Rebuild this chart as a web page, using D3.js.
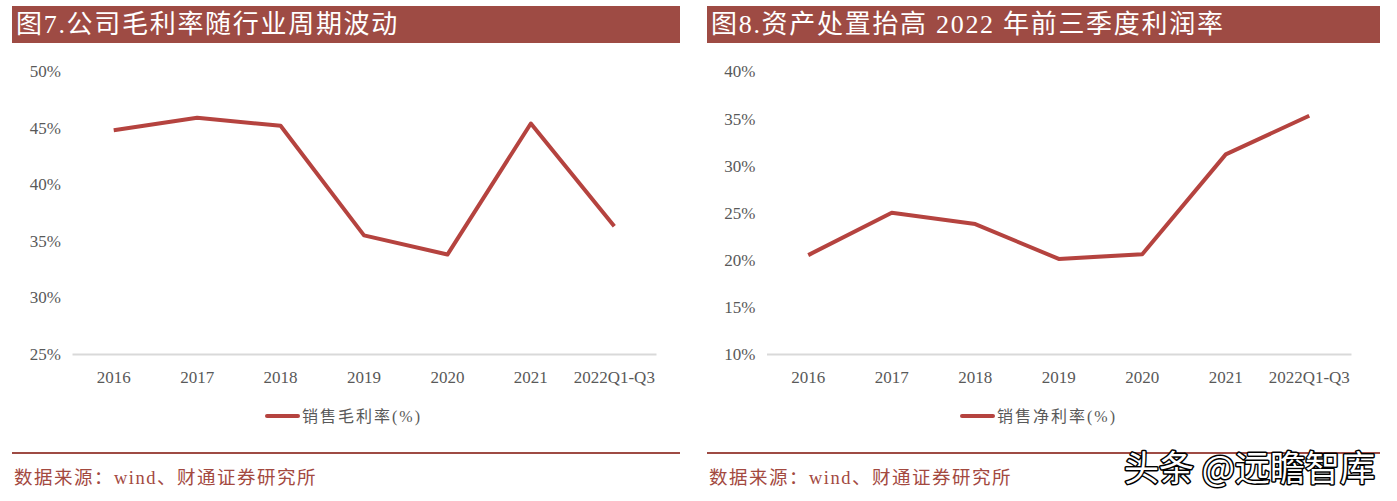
<!DOCTYPE html>
<html><head><meta charset="utf-8">
<script src="https://cdn.jsdelivr.net/npm/d3@7"></script>
<style>
body{margin:0;background:#fff;}
svg{display:block;}
</style></head>
<body>
<svg id="c" width="1397" height="501"></svg>
<script>
const categories = ["2016","2017","2018","2019","2020","2021","2022Q1-Q3"];
const grossMargin = [44.8, 45.9, 45.2, 35.5, 33.8, 45.4, 36.3];
const netMargin = [20.5, 25.0, 23.8, 20.1, 20.6, 31.2, 35.3];
const leftTicks = [25, 30, 35, 40, 45, 50];
const rightTicks = [10, 15, 20, 25, 30, 35, 40];
const titles = ["图7.公司毛利率随行业周期波动", "图8.资产处置抬高 2022 年前三季度利润率"];
const legends = ["销售毛利率(%)", "销售净利率(%)"];
const source = "数据来源：wind、财通证券研究所";

const svg = d3.select("#c");
const RED = "#9e4b44", LINE = "#b5433f", GRAY = "#595959";
const serif = "'Liberation Serif','Times New Roman','Noto Sans CJK SC',serif";

function panel(x0, x1, title, values, ticks, legend, cfg) {
  const g = svg.append("g");
  g.append("rect").attr("x", x0).attr("y", 6).attr("width", x1 - x0).attr("height", 37).attr("fill", RED);
  g.append("text").attr("x", x0 + 4).attr("y", 33).attr("fill", "#fff")
    .attr("font-family", serif).attr("font-size", 26).attr("letter-spacing", 1.7).text(title);

  const x = d3.scaleBand().domain(categories).range([cfg.ax0, cfg.ax1]);
  const y = d3.scaleLinear().domain([ticks[0], ticks[ticks.length - 1]]).range([354, 71.5]);

  const ya = g.append("g").attr("transform", `translate(${cfg.ax0},0)`)
    .call(d3.axisLeft(y).tickValues(ticks).tickSize(0).tickPadding(11).tickFormat(d => d + "%"));
  ya.select(".domain").remove();
  ya.selectAll("text").attr("font-family", serif).attr("font-size", 17).attr("fill", GRAY);

  const xa = g.append("g").attr("transform", "translate(0,354)")
    .call(d3.axisBottom(x).tickSize(0).tickPadding(17));
  xa.select(".domain").attr("stroke", "#d9d9d9").attr("stroke-width", 2);
  xa.selectAll("text").attr("font-family", serif).attr("font-size", 17).attr("fill", GRAY);

  const line = d3.line().x((d, i) => x(categories[i]) + x.bandwidth() / 2).y(d => y(d));
  g.append("path").datum(values).attr("d", line).attr("fill", "none")
    .attr("stroke", LINE).attr("stroke-width", 4).attr("stroke-linejoin", "round");

  g.append("line").attr("x1", cfg.lx).attr("x2", cfg.lx + 31).attr("y1", 416).attr("y2", 416)
    .attr("stroke", LINE).attr("stroke-width", 4).attr("stroke-linecap", "round");
  g.append("text").attr("x", cfg.lx + 35).attr("y", 422).attr("fill", GRAY)
    .attr("font-family", serif).attr("font-size", 16).attr("letter-spacing", 2).text(legend);

  g.append("line").attr("x1", x0).attr("x2", x1).attr("y1", 453).attr("y2", 453)
    .attr("stroke", RED).attr("stroke-width", 2);
  g.append("text").attr("x", x0 + 2).attr("y", 484).attr("fill", "#a3493f")
    .attr("font-family", serif).attr("font-size", 18.5).attr("letter-spacing", 1.5).text(source);
}

panel(12, 680, titles[0], grossMargin, leftTicks, legends[0], {ax0: 72, ax1: 656, lx: 267});
panel(707, 1380, titles[1], netMargin, rightTicks, legends[1], {ax0: 766.5, ax1: 1351, lx: 962});

svg.append("text").attr("x", 1124).attr("y", 481)
  .attr("font-family", "'Noto Sans CJK SC',sans-serif").attr("font-size", 35)
  .attr("fill", "#fff").attr("stroke", "#000").attr("stroke-width", 3).attr("paint-order", "stroke")
  .attr("stroke-linejoin", "round").text("头条 @远瞻智库");
</script>
</body></html>
